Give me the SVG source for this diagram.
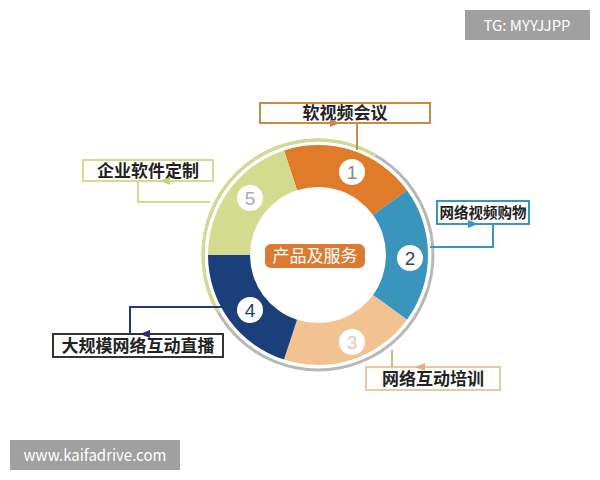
<svg xmlns="http://www.w3.org/2000/svg" width="600" height="480" viewBox="0 0 600 480">
<style>
text{font-family:"Noto Sans CJK SC","Liberation Sans",sans-serif}
.lbl{font-size:17px;font-weight:bold;fill:#222;text-anchor:middle}
.box{fill:#fff;stroke-width:2}
.num{font-size:19px;text-anchor:middle;font-family:"Liberation Sans",sans-serif}
.ln{fill:none;stroke-width:2}
</style>
<rect width="600" height="480" fill="#fff"/>
<g id="ring">
<circle cx="318" cy="255" r="115" fill="none" stroke="#b8b8b8" stroke-width="3"/>
<path d="M218.4 312.5 A115 115 0 0 1 375.5 155.4" fill="none" stroke="#d3dc8e" stroke-width="3"/>
<path d="M284 150.4 A110 110 0 0 1 407 190.3 L373 215 A68 68 0 0 0 297 190.3Z" fill="#e07b2a"/>
<path d="M407 190.3 A110 110 0 0 1 407 319.7 L373 295 A68 68 0 0 0 373 215Z" fill="#3a95bd"/>
<path d="M407 319.7 A110 110 0 0 1 284 359.6 L297 319.7 A68 68 0 0 0 373 295Z" fill="#f2c391"/>
<path d="M284 359.6 A110 110 0 0 1 208 255 L250 255 A68 68 0 0 0 297 319.7Z" fill="#1b3f7a"/>
<path d="M208 255 A110 110 0 0 1 284 150.4 L297 190.3 A68 68 0 0 0 250 255Z" fill="#d3dc8e"/>
</g>
<g id="n1"><circle cx="352" cy="172" r="13" fill="#fff"/><text x="352" y="179" class="num" fill="#888">1</text></g>
<g id="n2"><circle cx="410" cy="258" r="13" fill="#fff"/><text x="410" y="265" class="num" fill="#2a4a5a">2</text></g>
<g id="n3"><circle cx="352" cy="342" r="13" fill="#fff"/><text x="352" y="349" class="num" fill="#e6c9a6">3</text></g>
<g id="n4"><circle cx="250" cy="310" r="13" fill="#fff"/><text x="250" y="317" class="num" fill="#1b3f7a">4</text></g>
<g id="n5"><circle cx="250" cy="198" r="13" fill="#fff"/><text x="250" y="205" class="num" fill="#aaa">5</text></g>
<g id="center"><rect x="265" y="244" width="100" height="24" rx="6" fill="#dc7a32"/><text x="315" y="262" font-size="17" fill="#fff" text-anchor="middle">产品及服务</text></g>
<g id="b1"><rect class="box" x="260" y="103" width="170" height="20" stroke="#c8884a"/><text class="lbl" x="345" y="119">软视频会议</text></g>
<g id="b2"><rect class="box" x="437" y="201" width="92" height="23" stroke="#3a95bd"/><text class="lbl" x="483" y="218" style="font-size:14.5px">网络视频购物</text></g>
<g id="b3"><rect class="box" x="366" y="367" width="134" height="23" stroke="#e6c9a6"/><text class="lbl" x="433" y="385">网络互动培训</text></g>
<g id="b4"><rect class="box" x="83" y="160" width="130" height="21" stroke="#d3dc8e"/><text class="lbl" x="148" y="177">企业软件定制</text></g>
<g id="b5"><rect class="box" x="53" y="334" width="170" height="23" stroke="#333"/><text class="lbl" x="138" y="352">大规模网络互动直播</text></g>
<g id="connectors">
<path class="ln" stroke="#c8884a" d="M357 123 V150"/>
<path class="ln" stroke="#3a95bd" d="M493 224 V247 H430"/>
<path class="ln" stroke="#d8b48a" d="M392 350 V367"/>
<path class="ln" stroke="#d3dc8e" d="M138 181 V202 H210"/>
<path class="ln" stroke="#1b3f7a" d="M225 307 H130 V334"/>
<polygon points="330,119 340,123 330,127" fill="#c8884a"/>
<polygon points="468,220 478,224 468,228" fill="#3a95bd"/>
<polygon points="425,363 415,367 425,371" fill="#e0b080"/>
<polygon points="170,177 160,181 170,185" fill="#c5d080"/>
<polygon points="150,330 140,334 150,338" fill="#2a2a70"/>
</g>
<g id="wm1"><rect x="465" y="10" width="125" height="30" fill="#a0a0a0"/><text x="527" y="31" font-size="15" fill="#fff" text-anchor="middle" font-family="Liberation Sans,sans-serif">TG: MYYJJPP</text></g>
<g id="wm2"><rect x="10" y="440" width="170" height="30" fill="#a0a0a0"/><text x="95" y="461" font-size="15" fill="#fff" text-anchor="middle" font-family="Liberation Sans,sans-serif">www.kaifadrive.com</text></g>
</svg>
